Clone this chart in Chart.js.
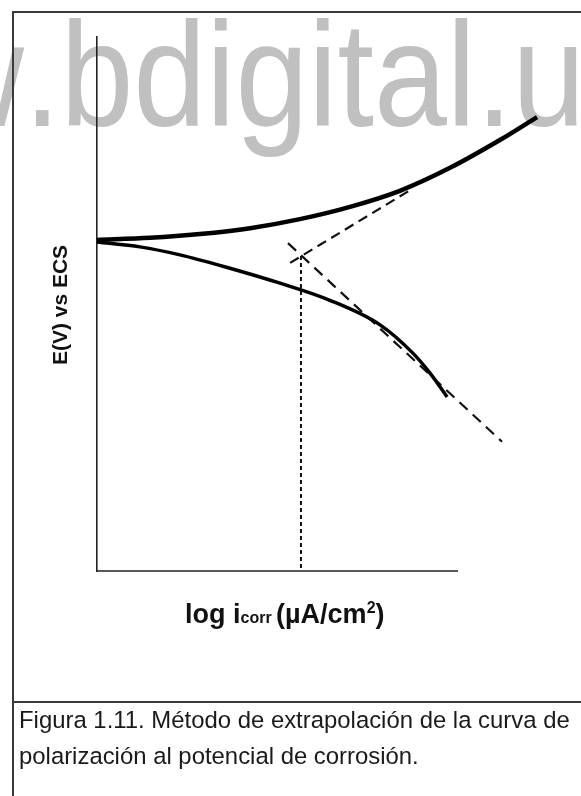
<!DOCTYPE html>
<html lang="es">
<head>
<meta charset="utf-8">
<title>Extrapolación de Tafel</title>
<script src="https://cdn.jsdelivr.net/npm/chart.js@4.4.0/dist/chart.umd.min.js"></script>
<style>
  html, body { margin: 0; padding: 0; background: #fff; }
  #grafico { display: block; }
</style>
</head>
<body>
<canvas id="grafico" width="581" height="796"></canvas>
<script>
// rama anódica (curva superior): log i vs E, unidades arbitrarias
const anodicaX = [0, 1.47, 2.85, 4.24, 5.62, 7.01, 8.39, 9.78, 11.16, 12.19];
const anodicaE = [6.20, 6.24, 6.31, 6.42, 6.59, 6.82, 7.12, 7.55, 8.07, 8.50];

// rama catódica (curva inferior)
const catodicaX = [0, 1.19, 2.30, 3.68, 5.07, 6.45, 7.84, 8.75, 9.22, 9.70];
const catodicaE = [6.16, 6.07, 5.92, 5.67, 5.39, 5.07, 4.61, 4.08, 3.71, 3.26];

// rectas de Tafel extrapoladas
const tafelAnodicaX = [5.35, 8.67];
const tafelAnodicaE = [5.77, 7.13];
const tafelCatodicaX = [5.29, 11.22];
const tafelCatodicaE = [6.14, 2.42];

// corte de las rectas: i corr / E corr
const icorrX = 5.65;
const ecorr = 5.90;

// rango de los ejes (sin marcas); el eje x dibujado llega solo hasta finEjeX
const rangoX = [0, 12.4];
const rangoE = [0, 10];
const finEjeX = 10;

function puntos(xs, ys) {
    return xs.map((x, i) => ({ x: x, y: ys[i] }));
}

const FUENTE = '"Liberation Sans", Arial, Helvetica, sans-serif';

// marca de agua, marco, eje x y textos de la figura
const lamina = {
    id: 'lamina',
    beforeDraw(chart) {
        const ctx = chart.ctx;
        ctx.save();
        ctx.fillStyle = '#fff';
        ctx.fillRect(0, 0, chart.width, chart.height);

        // marca de agua gris
        ctx.save();
        ctx.fillStyle = '#c0c0c0';
        ctx.font = '149px ' + FUENTE;
        ctx.translate(24, 126);
        ctx.scale(0.88, 1);
        ctx.textAlign = 'right';
        ctx.fillText('www', 0, 0);
        ctx.textAlign = 'left';
        ctx.fillText('.bdigital.unal.edu.co', 0, 0);
        ctx.restore();

        // marco de la figura
        ctx.strokeStyle = '#3a3a3a';
        ctx.lineWidth = 2;
        ctx.beginPath();
        ctx.moveTo(13, 796);
        ctx.lineTo(13, 12);
        ctx.lineTo(581, 12);
        ctx.moveTo(13, 702);
        ctx.lineTo(581, 702);
        ctx.stroke();
        ctx.restore();
    },
    beforeDatasetsDraw(chart) {
        // eje x, mas corto que el area de las curvas
        const ctx = chart.ctx;
        const sx = chart.scales.x;
        const sy = chart.scales.y;
        const y0 = sy.getPixelForValue(rangoE[0]);
        ctx.save();
        ctx.strokeStyle = '#222';
        ctx.lineWidth = 1.6;
        ctx.beginPath();
        ctx.moveTo(sx.getPixelForValue(rangoX[0]) - 0.8, y0);
        ctx.lineTo(sx.getPixelForValue(finEjeX), y0);
        ctx.stroke();
        ctx.restore();
    },
    afterDraw(chart) {
        const ctx = chart.ctx;
        const area = chart.chartArea;
        ctx.save();
        ctx.fillStyle = '#111';

        // titulo eje vertical
        ctx.save();
        ctx.translate(61, (area.top + area.bottom) / 2 + 1);
        ctx.rotate(-Math.PI / 2);
        ctx.font = 'bold 21px ' + FUENTE;
        ctx.textAlign = 'center';
        ctx.textBaseline = 'middle';
        ctx.fillText('E(V) vs ECS', 0, 0);
        ctx.restore();

        // titulo eje horizontal con subindice y superindice
        const grande = 'bold 27px ' + FUENTE;
        const chica = 'bold 16px ' + FUENTE;
        const base = area.bottom + 52;
        let x = 185;
        const trozos = [
            ['log i', grande, 0],
            ['corr ', chica, 0],
            ['(µA/cm', grande, 0],
            ['2', chica, -10],
            [')', grande, 0]
        ];
        ctx.textBaseline = 'alphabetic';
        trozos.forEach(t => {
            ctx.font = t[1];
            ctx.fillText(t[0], x, base + t[2]);
            x += ctx.measureText(t[0]).width;
        });

        // pie de figura
        ctx.font = '23.9px ' + FUENTE;
        ctx.fillStyle = '#1a1a1a';
        ctx.fillText('Figura 1.11. Método de extrapolación de la curva de', 19, 728);
        ctx.fillText('polarización al potencial de corrosión.', 19, 764);
        ctx.restore();
    }
};

const datos = {
    datasets: [
        {
            label: 'anódica',
            data: puntos(anodicaX, anodicaE),
            borderColor: '#000',
            borderWidth: 4.5,
            tension: 0.4,
            cubicInterpolationMode: 'monotone'
        },
        {
            label: 'catódica',
            data: puntos(catodicaX, catodicaE),
            borderColor: '#000',
            borderWidth: 3.5,
            tension: 0.4,
            cubicInterpolationMode: 'monotone'
        },
        {
            label: 'Tafel anódica',
            data: puntos(tafelAnodicaX, tafelAnodicaE),
            borderColor: '#111',
            borderWidth: 2.2,
            borderDash: [10, 6]
        },
        {
            label: 'Tafel catódica',
            data: puntos(tafelCatodicaX, tafelCatodicaE),
            borderColor: '#111',
            borderWidth: 2.2,
            borderDash: [11, 7]
        },
        {
            label: 'i corr',
            data: [{ x: icorrX, y: ecorr }, { x: icorrX, y: rangoE[0] }],
            borderColor: '#111',
            borderWidth: 2,
            borderDash: [4, 3]
        }
    ]
};

new Chart(document.getElementById('grafico'), {
    type: 'scatter',
    data: datos,
    options: {
        responsive: false,
        animation: false,
        events: [],
        // 36.1 px por unidad en x, 53.4 px por unidad en E
        layout: { padding: { left: 97, top: 37, right: 581 - 97 - 12.4 * 36.1, bottom: 225 } },
        datasets: {
            scatter: { showLine: true, pointRadius: 0, clip: false, fill: false }
        },
        scales: {
            x: {
                type: 'linear', min: rangoX[0], max: rangoX[1],
                ticks: { display: false },
                grid: { display: false, drawTicks: false },
                border: { display: false }
            },
            y: {
                type: 'linear', min: rangoE[0], max: rangoE[1],
                ticks: { display: false },
                grid: { display: false, drawTicks: false },
                border: { display: true, color: '#222', width: 1.6 }
            }
        },
        plugins: {
            legend: { display: false },
            tooltip: { enabled: false }
        }
    },
    plugins: [lamina]
});
</script>
</body>
</html>
